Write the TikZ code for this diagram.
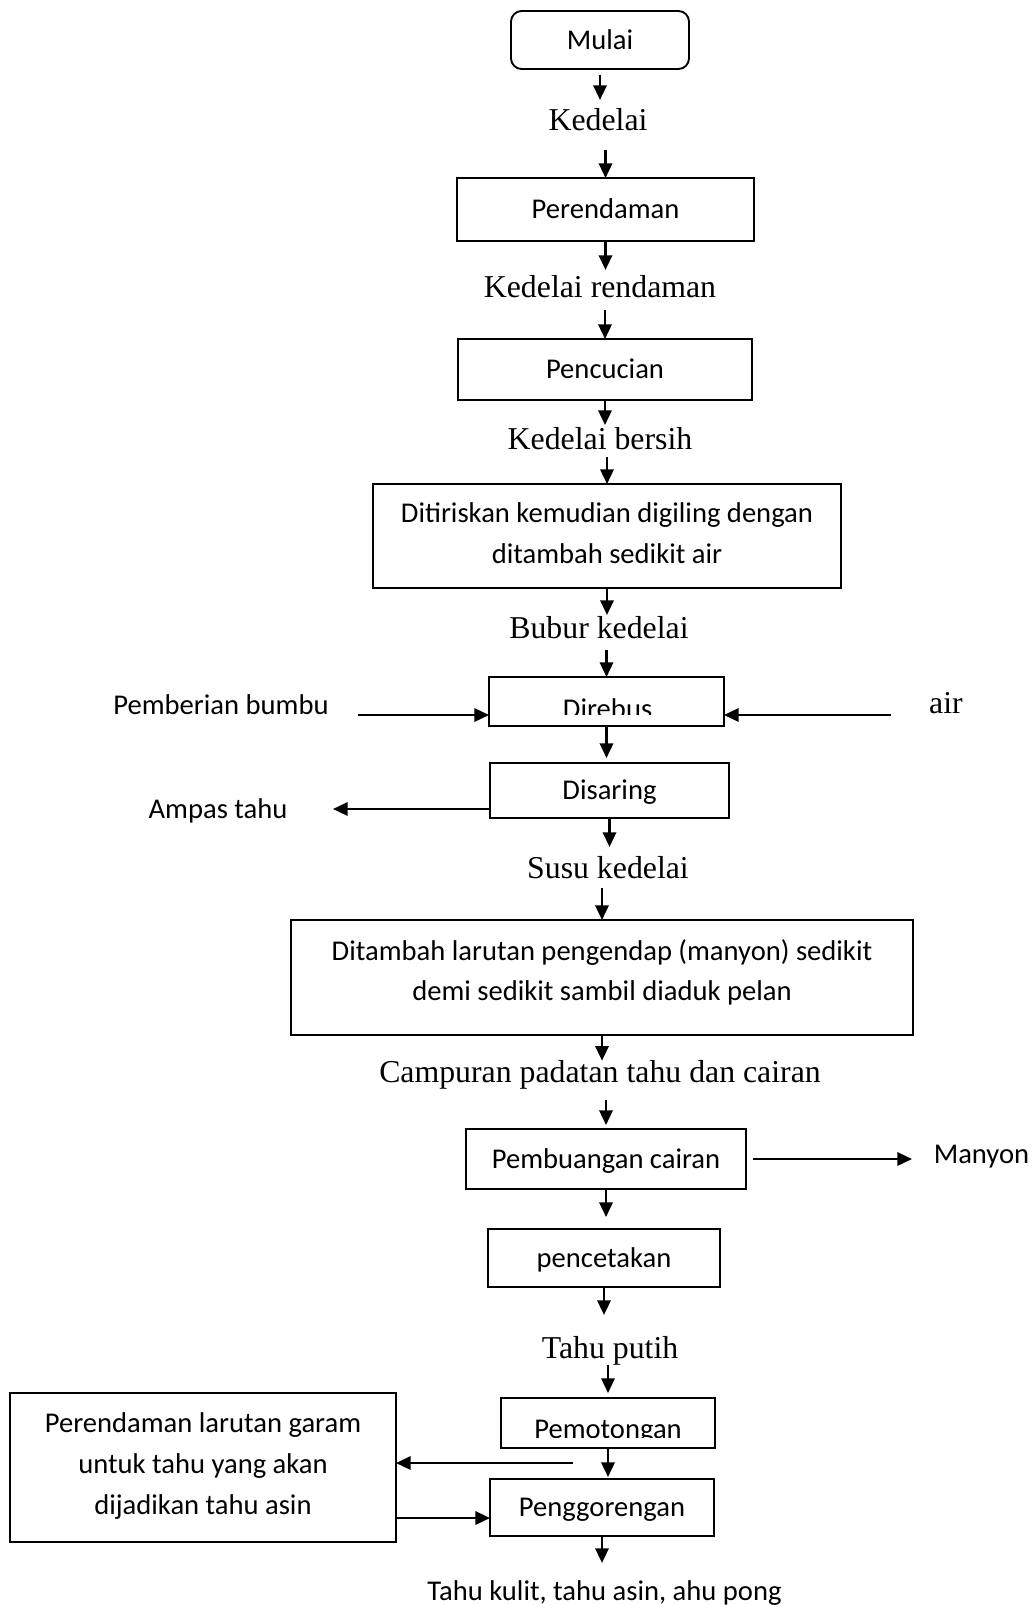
\documentclass[tikz,border=0pt]{standalone}
\usepackage{fontspec}
\setmainfont{Liberation Serif}
\newfontfamily\calib{Carlito}
\usetikzlibrary{arrows.meta}
\newcommand\myCF{\calib\fontsize{21.45pt}{30.4pt}\selectfont}
\newcommand\myTF{\fontsize{23.85pt}{28pt}\selectfont}
\begin{document}
\begin{tikzpicture}[x=0.75pt,y=-0.75pt,
  box/.style={draw, line width=1.4pt, inner sep=0pt, outer sep=0pt, font=\myCF, text height=13.8pt, text depth=0pt},
  bx/.style args={#1/#2/#3/#4}{minimum width={(#3-#1)*0.75pt}, minimum height={(#4-#2)*0.75pt}, at={({(#1+#3)/2},{(#2+#4)/2})}},
  txt/.style={inner sep=0pt, outer sep=0pt, font=\myCF, align=center},
  lbl/.style={inner sep=0pt, outer sep=0pt, font=\myTF, text height=16pt, text depth=5pt},
  clbl/.style={inner sep=0pt, outer sep=0pt, font=\myCF, text height=14.5pt, text depth=4.5pt},
  arr/.style={line width=1.8pt, -{Triangle[length=11pt,width=10pt]}}
]
\useasboundingbox (0,0) rectangle (1035,1605);

% main column
\node[box, rounded corners=8pt, bx=511/11/689/69] (mulai) {Mulai};
\node[lbl, anchor=base] (kedelai) at (598,131) {Kedelai};
\node[box, bx=457/178/754/241] (perendaman) {Perendaman};
\node[lbl, anchor=base] (rendaman) at (600,297) {Kedelai rendaman};
\node[box, bx=458/339/752/400] (pencucian) {Pencucian};
\node[lbl, anchor=base] (bersih) at (600,449) {Kedelai bersih};
\node[box, bx=373/484/841/588] (ditiriskan) {};
\node[txt] (ditiriskantxt) at (607,533) {Ditiriskan kemudian digiling dengan\\ditambah sedikit air};
\node[lbl, anchor=base] (bubur) at (599,638) {Bubur kedelai};
\node[box, bx=489/677/724/726] (direbus) {};
\begin{scope}
  \clip (489,677) rectangle (724,714);
  \node[clbl, anchor=base] (direbustxt) at (607.6,718.4) {Direbus};
\end{scope}
\node[clbl, anchor=base] (bumbu) at (221,714) {Pemberian bumbu};
\node[lbl, anchor=base] (air) at (946,713) {air};
\node[box, bx=490/763/729/818] (disaring) {Disaring};
\node[clbl, anchor=base] (ampas) at (218,818) {Ampas tahu};
\node[lbl, anchor=base] (susu) at (608,878) {Susu kedelai};
\node[box, bx=291/920/913/1035] (ditambah) {};
\node[txt] (ditambahtxt) at (602,972.5) {Ditambah larutan pengendap (manyon) sedikit\\demi sedikit sambil diaduk pelan};
\node[lbl, anchor=base] (campuran) at (600,1082) {Campuran padatan tahu dan cairan};
\node[box, bx=466/1129/746/1189] (pembuangan) {Pembuangan cairan};
\node[clbl, anchor=base] (manyon) at (981.5,1163) {Manyon};
\node[box, bx=488/1229/720/1287] (pencetakan) {pencetakan};
\node[lbl, anchor=base] (putih) at (610,1358) {Tahu putih};
\node[box, bx=501/1398/715/1448] (pemotongan) {};
\begin{scope}
  \clip (501,1398) rectangle (715,1437);
  \node[clbl, anchor=base] (pemotongantxt) at (608,1438.4) {Pemotongan};
\end{scope}
\node[box, bx=490/1479/714/1536] (penggorengan) {Penggorengan};
\node[box, bx=10/1393/396/1542] (garam) {};
\node[txt] (garamtxt) at (203,1466) {Perendaman larutan garam\\untuk tahu yang akan\\dijadikan tahu asin};
\node[clbl, anchor=base] (hasil) at (604.5,1600) {Tahu kulit, tahu asin, ahu pong};

% vertical connectors
\draw[arr, shorten <=4.5pt, shorten >=7.3pt] (mulai.south) -- (mulai.south |- kedelai.north);
\draw[arr, shorten <=9.2pt] (perendaman.north |- kedelai.south) -- (perendaman.north);
\draw[arr, shorten >=4.3pt] (perendaman.south) -- (perendaman.south |- rendaman.north);
\draw[arr, shorten <=4.7pt] (pencucian.north |- rendaman.south) -- (pencucian.north);
\draw[arr, shorten >=2pt] (pencucian.south) -- (pencucian.south |- bersih.north);
\draw[arr, shorten <=1pt] (ditiriskan.north |- bersih.south) -- (ditiriskan.north);
\draw[arr, shorten >=1.3pt] (ditiriskan.south) -- (ditiriskan.south |- bubur.north);
\draw[arr, shorten <=4pt] (direbus.north |- bubur.south) -- (direbus.north);
\draw[arr, shorten >=3.75pt] (direbus.south) -- (direbus.south |- disaring.north);
\draw[arr, shorten >=7.3pt] (disaring.south) -- (disaring.south |- susu.north);
\draw[arr, shorten <=2.5pt] (ditambah.north |- susu.south) -- (ditambah.north);
\draw[arr] (ditambah.south) -- (ditambah.south |- campuran.north);
\draw[arr, shorten <=8.5pt, shorten >=3pt] (pembuangan.north |- campuran.south) -- (pembuangan.north);
\draw[arr, shorten >=9pt] (pembuangan.south) -- (pembuangan.south |- pencetakan.north);
\draw[arr, shorten >=16.3pt] (pencetakan.south) -- (pencetakan.south |- putih.north);
\draw[arr, shorten >=3.75pt] (pemotongan.north |- putih.south) -- (pemotongan.north);
\draw[arr, shorten >=1.5pt] (pemotongan.south) -- (pemotongan.south |- penggorengan.north);
\draw[arr, shorten >=13.3pt] (penggorengan.south) -- (penggorengan.south |- hasil.north);

% side connectors
\coordinate (bumbuend) at (358,715);
\draw[arr] (bumbuend) -- (bumbuend -| direbus.west);
\coordinate (airend) at (891,715);
\draw[arr] (airend) -- (airend -| direbus.east);
\coordinate (ampasend) at (333,809);
\draw[arr] (ampasend -| disaring.west) -- (ampasend);
\coordinate (manyonend) at (912,1159);
\draw[arr, shorten <=5pt] (pembuangan.east) -- (manyonend);
\coordinate (garamsplit) at (573,1463);
\draw[arr] (garamsplit) -- (garamsplit -| garam.east);
\coordinate (garamout) at (396,1518);
\draw[arr] (garamout) -- (garamout -| penggorengan.west);
\end{tikzpicture}
\end{document}
